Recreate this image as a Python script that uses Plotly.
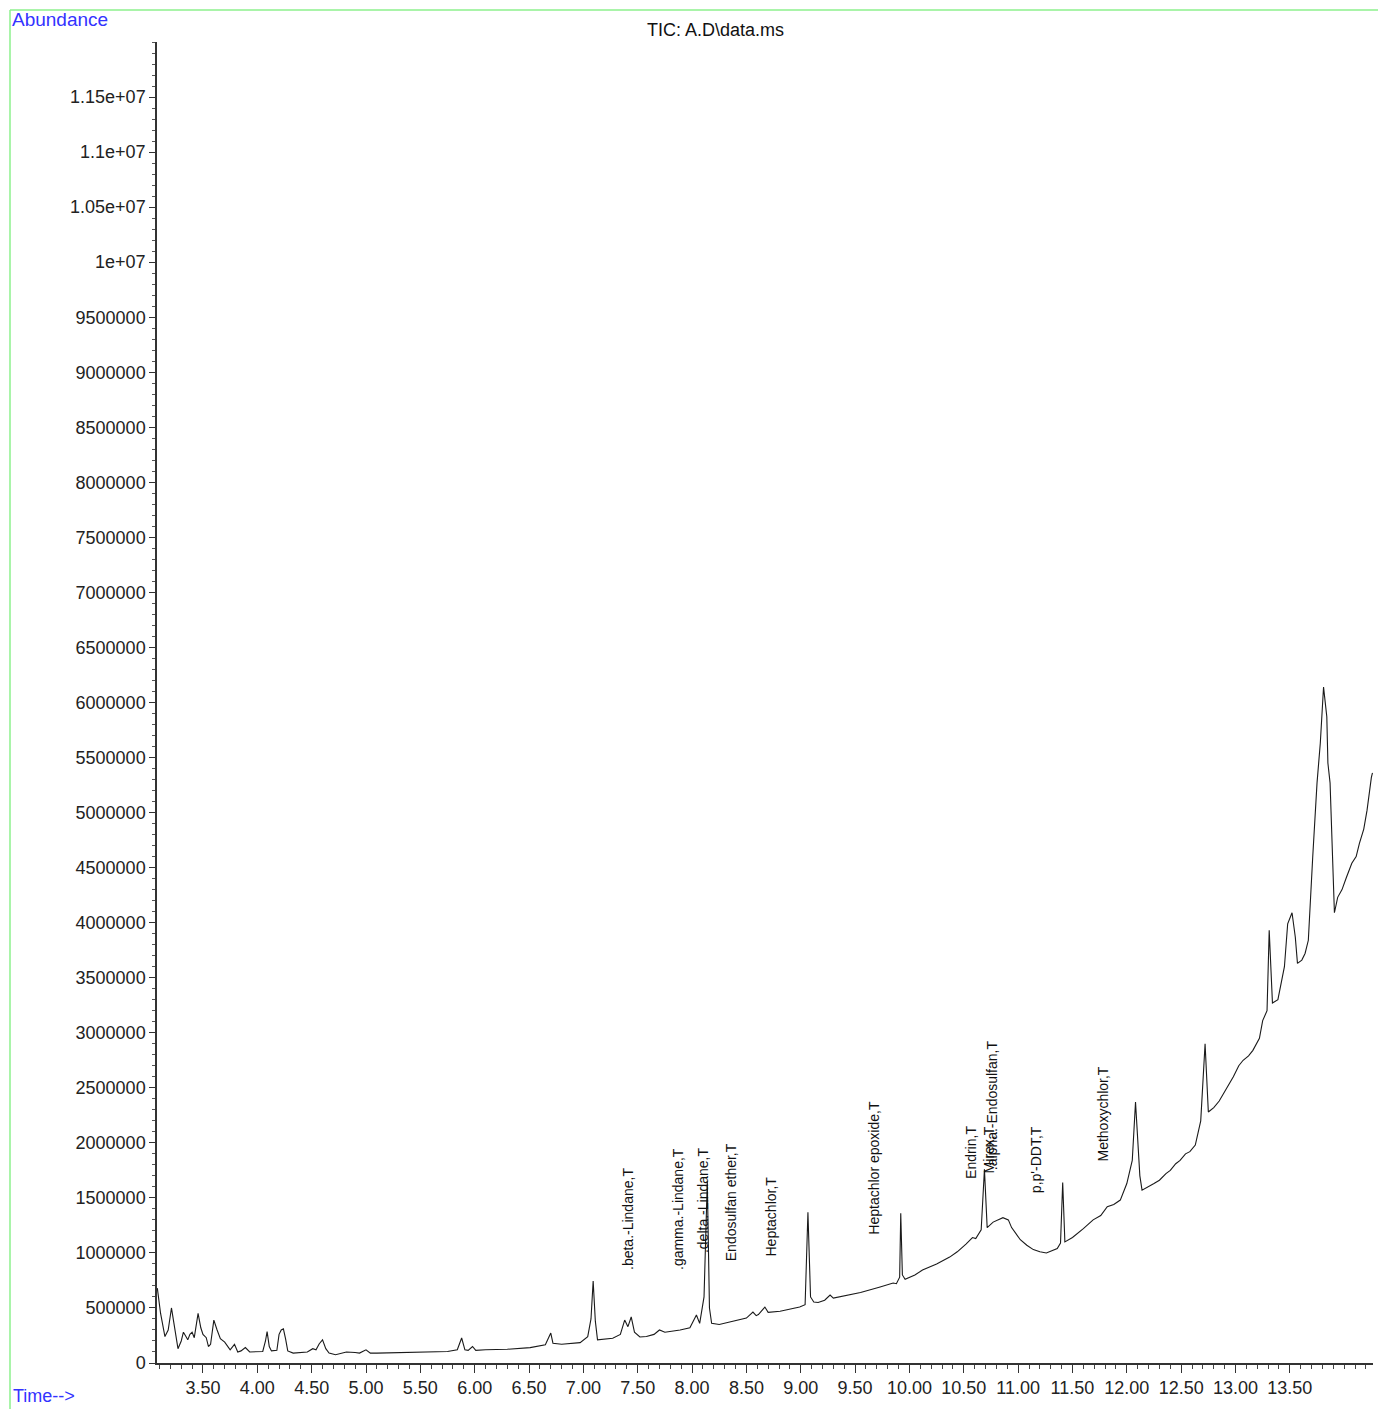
import plotly.graph_objects as go

# ---- data ----
time_min = [3.08, 3.11, 3.15, 3.18, 3.21, 3.24, 3.27, 3.30, 3.32, 3.35, 3.36, 3.38, 3.40, 3.42, 3.455,
            3.48, 3.50, 3.53, 3.55, 3.57, 3.60, 3.63, 3.66, 3.70, 3.75, 3.79, 3.82, 3.85, 3.89, 3.93,
            4.00, 4.05, 4.075, 4.09, 4.11, 4.13, 4.18, 4.20, 4.22, 4.24, 4.26, 4.28, 4.33, 4.40, 4.46,
            4.51, 4.54, 4.57, 4.60, 4.63, 4.66, 4.72, 4.82, 4.90, 4.94, 5.00, 5.04, 5.10, 5.25, 5.40,
            5.60, 5.75, 5.84, 5.88, 5.91, 5.94, 5.98, 6.01, 6.10, 6.30, 6.51, 6.65, 6.70, 6.72, 6.80,
            6.97, 7.04, 7.07, 7.09, 7.11, 7.13, 7.27, 7.34, 7.38, 7.41, 7.44, 7.47, 7.52, 7.58, 7.65,
            7.70, 7.75, 7.89, 7.98, 8.04, 8.07, 8.11, 8.14, 8.16, 8.18, 8.25, 8.35, 8.50, 8.56, 8.59,
            8.61, 8.67, 8.70, 8.81, 8.99, 9.04, 9.066, 9.09, 9.12, 9.16, 9.22, 9.27, 9.30, 9.42, 9.55,
            9.73, 9.85, 9.88, 9.91, 9.92, 9.935, 9.96, 10.05, 10.12, 10.25, 10.37, 10.44, 10.52, 10.58,
            10.61, 10.66, 10.69, 10.715, 10.77, 10.82, 10.86, 10.91, 10.94, 11.02, 11.08, 11.14, 11.20,
            11.26, 11.36, 11.39, 11.41, 11.43, 11.50, 11.60, 11.69, 11.76, 11.82, 11.88, 11.94, 12.00,
            12.05, 12.08, 12.12, 12.14, 12.20, 12.25, 12.30, 12.36, 12.40, 12.45, 12.49, 12.54, 12.58,
            12.63, 12.68, 12.72, 12.75, 12.80, 12.85, 12.88, 12.93, 12.98, 13.03, 13.07, 13.12, 13.16,
            13.22, 13.25, 13.29, 13.31, 13.34, 13.39, 13.45, 13.48, 13.52, 13.55, 13.57, 13.61, 13.64,
            13.67, 13.71, 13.75, 13.78, 13.81, 13.84, 13.85, 13.87, 13.89, 13.91, 13.94, 13.98, 14.02,
            14.05, 14.07, 14.11, 14.14, 14.18, 14.21, 14.25, 14.26]

abundance_k = [680, 450, 240, 300, 500, 330, 130, 200, 280, 230, 210, 260, 280, 230, 450,
               320, 260, 230, 150, 170, 390, 300, 220, 190, 120, 170, 100, 110, 140, 100,
               100, 105, 200, 285, 150, 110, 115, 260, 300, 310, 220, 110, 90, 95, 100,
               130, 120, 175, 210, 130, 90, 75, 100, 95, 90, 120, 90, 90, 92, 95,
               100, 105, 120, 227, 120, 115, 150, 115, 120, 125, 140, 165, 272, 180, 170,
               185, 240, 400, 745, 380, 210, 225, 260, 390, 330, 418, 280, 236, 240, 260,
               300, 280, 300, 320, 436, 360, 600, 1650, 500, 360, 350, 372, 408, 463, 430,
               440, 508, 460, 470, 508, 530, 1370, 600, 554, 550, 570, 617, 590, 617, 640,
               690, 726, 720, 780, 1360, 800, 760, 800, 844, 900, 962, 1010, 1080, 1140,
               1130, 1210, 1760, 1230, 1280, 1300, 1320, 1300, 1230, 1120, 1070, 1030, 1010,
               1000, 1040, 1090, 1640, 1100, 1140, 1220, 1300, 1340, 1420, 1440, 1480, 1630,
               1840, 2370, 1700, 1570, 1600, 1630, 1660, 1720, 1750, 1810, 1840, 1900, 1920,
               1980, 2200, 2900, 2280, 2320, 2380, 2430, 2520, 2600, 2700, 2750, 2790, 2840,
               2950, 3110, 3200, 3930, 3270, 3300, 3600, 3990, 4090, 3870, 3630, 3660, 3720,
               3840, 4590, 5270, 5630, 6140, 5870, 5450, 5270, 4660, 4090, 4230, 4300, 4410,
               4480, 4540, 4600, 4720, 4850, 5020, 5320, 5360]

peak_labels = [".beta.-Lindane,T", ".gamma.-Lindane,T", ".delta.-Lindane,T", "Endosulfan ether,T",
               "Heptachlor,T", "Heptachlor epoxide,T", "Endrin,T", "Mirex,T", ".alpha.-Endosulfan,T",
               "p,p'-DDT,T", "Methoxychlor,T"]
label_time = [7.41, 7.87, 8.10, 8.36, 8.73, 9.67, 10.56, 10.73, 10.76, 11.16, 11.78]
label_base = [826000, 826000, 980000, 908000, 953000, 1144000, 1652000, 1707000, 1734000, 1525000, 1816000]

x_tick_vals = [3.5, 4.0, 4.5, 5.0, 5.5, 6.0, 6.5, 7.0, 7.5, 8.0, 8.5, 9.0, 9.5, 10.0, 10.5,
               11.0, 11.5, 12.0, 12.5, 13.0, 13.5]
x_tick_text = ["3.50", "4.00", "4.50", "5.00", "5.50", "6.00", "6.50", "7.00", "7.50", "8.00", "8.50",
               "9.00", "9.50", "10.00", "10.50", "11.00", "11.50", "12.00", "12.50", "13.00", "13.50"]
y_tick_vals = [0, 500000, 1000000, 1500000, 2000000, 2500000, 3000000, 3500000, 4000000, 4500000,
               5000000, 5500000, 6000000, 6500000, 7000000, 7500000, 8000000, 8500000, 9000000,
               9500000, 10000000, 10500000, 11000000, 11500000]
y_tick_text = ["0", "500000", "1000000", "1500000", "2000000", "2500000", "3000000", "3500000",
               "4000000", "4500000", "5000000", "5500000", "6000000", "6500000", "7000000",
               "7500000", "8000000", "8500000", "9000000", "9500000", "1e+07", "1.05e+07",
               "1.1e+07", "1.15e+07"]

FONT = "Liberation Sans, Arial, sans-serif"
W, H = 1378, 1409
L, R, T, B = 157, 5, 42, 46
PW, PH = W - L - R, H - T - B


def px_to_paper_x(px):
    return (px - L) / PW


def py_to_paper_y(py):
    return (H - B - py) / PH


fig = go.Figure()
fig.add_trace(go.Scatter(
    x=time_min,
    y=[v * 1000 for v in abundance_k],
    mode="lines",
    line=dict(color="#1a1a1a", width=1.1),
    hoverinfo="x+y",
    showlegend=False,
))

for name, tx, ty in zip(peak_labels, label_time, label_base):
    fig.add_annotation(x=tx, y=ty, xref="x", yref="y", text=name, textangle=-90,
                       showarrow=False, xanchor="center", yanchor="bottom",
                       font=dict(family=FONT, size=14, color="#111"))

# texts outside the plot
fig.add_annotation(x=px_to_paper_x(715), y=py_to_paper_y(30), xref="paper", yref="paper",
                   text="TIC: A.D\\data.ms", showarrow=False, xanchor="center", yanchor="middle",
                   font=dict(family=FONT, size=18, color="#111"))
fig.add_annotation(x=px_to_paper_x(10), y=py_to_paper_y(20), xref="paper", yref="paper",
                   text="Abundance", showarrow=False, xanchor="left", yanchor="middle",
                   font=dict(family=FONT, size=19, color="#3333ff"))
fig.add_annotation(x=px_to_paper_x(11), y=py_to_paper_y(1396), xref="paper", yref="paper",
                   text="Time-->", showarrow=False, xanchor="left", yanchor="middle",
                   font=dict(family=FONT, size=18, color="#3333ff"))

# green frame
green = "#8cf08c"
fig.add_shape(type="line", xref="paper", yref="paper",
              x0=px_to_paper_x(10), x1=px_to_paper_x(1380), y0=py_to_paper_y(10), y1=py_to_paper_y(10),
              line=dict(color=green, width=1.5))
fig.add_shape(type="line", xref="paper", yref="paper",
              x0=px_to_paper_x(10), x1=px_to_paper_x(10), y0=py_to_paper_y(10), y1=py_to_paper_y(1412),
              line=dict(color=green, width=1.5))

fig.update_layout(
    width=W, height=H, autosize=False,
    margin=dict(l=L, r=R, t=T, b=B, pad=0),
    paper_bgcolor="white", plot_bgcolor="white",
    font=dict(family=FONT, size=18, color="#222"),
    xaxis=dict(
        range=[3.077, 14.265], tickmode="array", tickvals=x_tick_vals, ticktext=x_tick_text,
        showline=True, linecolor="#333", linewidth=1.5, ticks="outside", ticklen=8,
        tickcolor="#333", tickwidth=1.2, showgrid=False, zeroline=False,
        tickfont=dict(family=FONT, size=18, color="#222"),
        minor=dict(tick0=3.0, dtick=0.1, ticks="outside", ticklen=4, tickcolor="#444", showgrid=False),
    ),
    yaxis=dict(
        range=[0, 12000000], tickmode="array", tickvals=y_tick_vals, ticktext=y_tick_text,
        showline=True, linecolor="#333", linewidth=1.5, ticks="outside", ticklen=6,
        tickcolor="#333", tickwidth=1.2, showgrid=False, zeroline=False,
        tickfont=dict(family=FONT, size=18, color="#222"),
        ticklabelstandoff=0,
        minor=dict(tick0=0, dtick=100000, ticks="outside", ticklen=3, tickcolor="#555", showgrid=False),
    ),
)

fig.write_html("out.html", config={"displayModeBar": False},
               post_script="document.body.style.margin='0';document.body.style.overflow='hidden';")
